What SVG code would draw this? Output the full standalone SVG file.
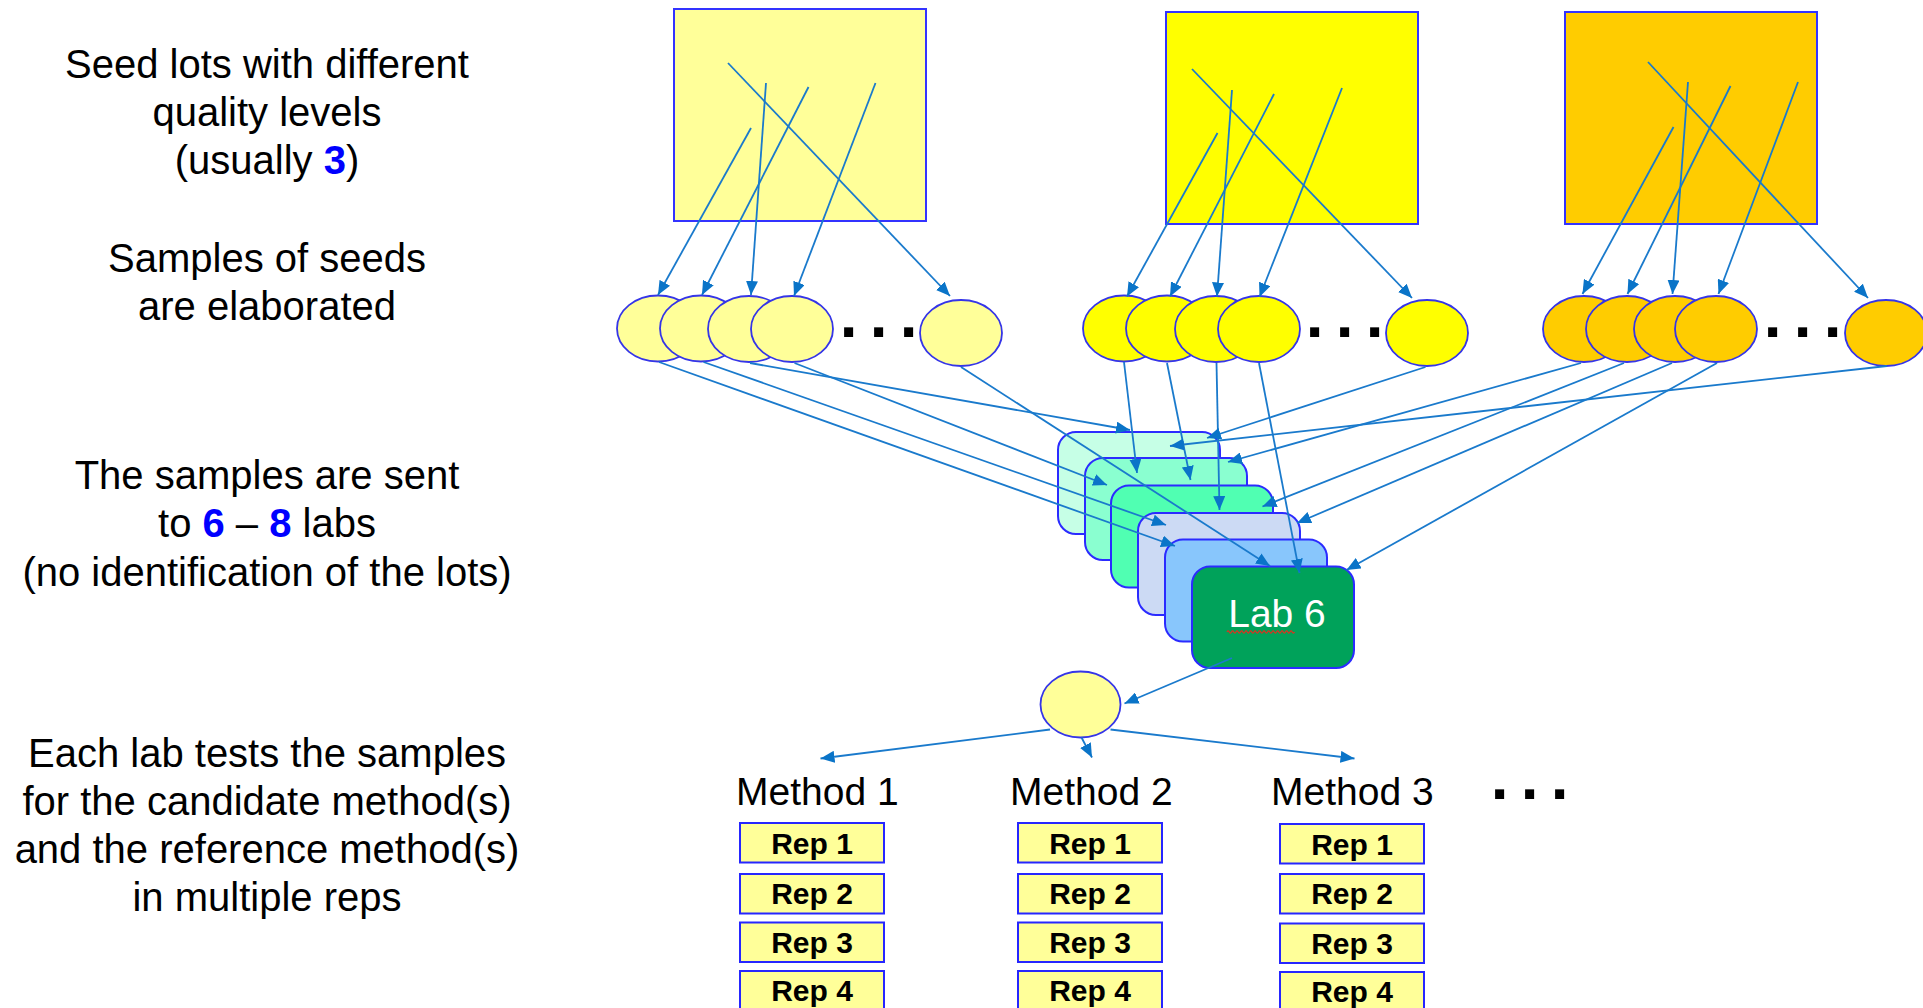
<svg xmlns="http://www.w3.org/2000/svg" width="1923" height="1008" viewBox="0 0 1923 1008">
<defs>
<marker id="ah" markerUnits="userSpaceOnUse" markerWidth="15" markerHeight="12" refX="14" refY="6" orient="auto"><path d="M0,0 L14,6 L0,12 z" fill="#0A74C8"/></marker>
</defs>
<style>
.lot{stroke:#3333FF;stroke-width:2}
.seed{stroke:#3535E8;stroke-width:1.8}
.y1{fill:#FFFF99}.y2{fill:#FFFF00}.y3{fill:#FFCC00}
.lab{stroke:#2B2BFF;stroke-width:2}
.rep{fill:#FFFF99;stroke:#2626FF;stroke-width:2}
.c{stroke:#1A7ACC;stroke-width:1.8;fill:none;marker-end:url(#ah)}
.t{font-family:"Liberation Sans",Arial,sans-serif;font-size:40px;fill:#000;text-anchor:middle}
.b{font-weight:bold;fill:#0000FF}
.m{font-family:"Liberation Sans",Arial,sans-serif;font-size:39px;fill:#000}
.r{font-family:"Liberation Sans",Arial,sans-serif;font-size:30px;font-weight:bold;fill:#000;text-anchor:middle}
.d{font-family:"Liberation Sans",Arial,sans-serif;font-size:64px;font-weight:bold;fill:#000}
</style>
<rect width="1923" height="1008" fill="#FFFFFF"/>

<g id="labels">
<text class="t" x="267" y="78">Seed lots with different</text>
<text class="t" x="267" y="126">quality levels</text>
<text class="t" x="267" y="174">(usually <tspan class="b">3</tspan>)</text>
<text class="t" x="267" y="272">Samples of seeds</text>
<text class="t" x="267" y="320">are elaborated</text>
<text class="t" x="267" y="489">The samples are sent</text>
<text class="t" x="267" y="537">to <tspan class="b">6</tspan> – <tspan class="b">8</tspan> labs</text>
<text class="t" x="267" y="586">(no identification of the lots)</text>
<text class="t" x="267" y="767">Each lab tests the samples</text>
<text class="t" x="267" y="815">for the candidate method(s)</text>
<text class="t" x="267" y="863">and the reference method(s)</text>
<text class="t" x="267" y="911">in multiple reps</text>
</g>

<g id="lot1"><rect class="lot y1" x="674" y="9" width="252" height="212"/></g>
<g id="lot2"><rect class="lot y2" x="1166" y="12" width="252" height="212"/></g>
<g id="lot3"><rect class="lot y3" x="1565" y="12" width="252" height="212"/></g>

<g id="samples1">
<ellipse class="seed y1" cx="658" cy="328.5" rx="41" ry="33"/>
<ellipse class="seed y1" cx="701" cy="328.5" rx="41" ry="33"/>
<ellipse class="seed y1" cx="749" cy="329" rx="41" ry="33"/>
<ellipse class="seed y1" cx="792" cy="329" rx="41" ry="33"/>
<ellipse class="seed y1" cx="961" cy="333" rx="41" ry="33"/>
<text class="d" x="839.7 869.7 899.7" y="337">...</text>
</g>
<g id="samples2">
<ellipse class="seed y2" cx="1124" cy="328.5" rx="41" ry="33"/>
<ellipse class="seed y2" cx="1167" cy="328.5" rx="41" ry="33"/>
<ellipse class="seed y2" cx="1216" cy="329" rx="41" ry="33"/>
<ellipse class="seed y2" cx="1259" cy="329" rx="41" ry="33"/>
<ellipse class="seed y2" cx="1427" cy="333" rx="41" ry="33"/>
<text class="d" x="1305.7 1335.7 1365.7" y="337">...</text>
</g>
<g id="samples3">
<ellipse class="seed y3" cx="1584" cy="329" rx="41" ry="33"/>
<ellipse class="seed y3" cx="1627" cy="329" rx="41" ry="33"/>
<ellipse class="seed y3" cx="1675" cy="329" rx="41" ry="33"/>
<ellipse class="seed y3" cx="1716" cy="329" rx="41" ry="33"/>
<ellipse class="seed y3" cx="1886" cy="333" rx="41" ry="33"/>
<text class="d" x="1763.7 1793.7 1823.7" y="337">...</text>
</g>

<g id="labs">
<rect class="lab" x="1058" y="432" width="162" height="102" rx="18" fill="#C6FFE6"/>
<rect class="lab" x="1085" y="458" width="162" height="102" rx="18" fill="#8AFFD0"/>
<rect class="lab" x="1111" y="485.5" width="162" height="102" rx="18" fill="#50FFB2"/>
<rect class="lab" x="1138" y="513" width="162" height="102" rx="18" fill="#CCDAF4"/>
<rect class="lab" x="1165" y="539.5" width="162" height="102" rx="18" fill="#88C6FC"/>
<g id="lab6">
<rect class="lab" x="1192" y="566.5" width="162" height="101.5" rx="18" fill="#00A25A"/>
<text x="1277" y="627" font-family="Liberation Sans, Arial, sans-serif" font-size="39" fill="#FFFFFF" text-anchor="middle">Lab 6</text>
<path d="M1227,632 q1.125,-2.2 2.25,0 t2.25,0 t2.25,0 t2.25,0 t2.25,0 t2.25,0 t2.25,0 t2.25,0 t2.25,0 t2.25,0 t2.25,0 t2.25,0 t2.25,0 t2.25,0 t2.25,0 t2.25,0 t2.25,0 t2.25,0 t2.25,0 t2.25,0 t2.25,0 t2.25,0 t2.25,0 t2.25,0 t2.25,0 t2.25,0 t2.25,0 t2.25,0 t2.25,0 t2.25,0" fill="none" stroke="#E0301E" stroke-width="1.2"/>
</g>
</g>

<g id="sample"><ellipse class="seed y1" cx="1080.5" cy="704.5" rx="40" ry="33"/></g>

<g id="methods">
<text class="m" x="736" y="805">Method 1</text>
<text class="m" x="1010" y="805">Method 2</text>
<text class="m" x="1271" y="805">Method 3</text>
<text class="d" x="1490.7 1520.7 1550.7" y="799">...</text>
</g>

<g id="reps1">
<rect class="rep" x="740" y="823" width="144" height="39.5"/><text class="r" x="812" y="854">Rep 1</text>
<rect class="rep" x="740" y="874" width="144" height="39.5"/><text class="r" x="812" y="904">Rep 2</text>
<rect class="rep" x="740" y="922.5" width="144" height="39.5"/><text class="r" x="812" y="952.5">Rep 3</text>
<rect class="rep" x="740" y="971" width="144" height="39.5"/><text class="r" x="812" y="1001">Rep 4</text>
</g>
<g id="reps2">
<rect class="rep" x="1018" y="823" width="144" height="39.5"/><text class="r" x="1090" y="854">Rep 1</text>
<rect class="rep" x="1018" y="874" width="144" height="39.5"/><text class="r" x="1090" y="904">Rep 2</text>
<rect class="rep" x="1018" y="922.5" width="144" height="39.5"/><text class="r" x="1090" y="952.5">Rep 3</text>
<rect class="rep" x="1018" y="971" width="144" height="39.5"/><text class="r" x="1090" y="1001">Rep 4</text>
</g>
<g id="reps3">
<rect class="rep" x="1280" y="824" width="144" height="39.5"/><text class="r" x="1352" y="855">Rep 1</text>
<rect class="rep" x="1280" y="874" width="144" height="39.5"/><text class="r" x="1352" y="904">Rep 2</text>
<rect class="rep" x="1280" y="923.5" width="144" height="39.5"/><text class="r" x="1352" y="953.5">Rep 3</text>
<rect class="rep" x="1280" y="972" width="144" height="39.5"/><text class="r" x="1352" y="1002">Rep 4</text>
</g>

<g id="connectors">
<line class="c" x1="751" y1="128" x2="658" y2="295"/>
<line class="c" x1="766" y1="83" x2="751" y2="295"/>
<line class="c" x1="808.5" y1="87" x2="702" y2="295"/>
<line class="c" x1="875.5" y1="83" x2="794" y2="296"/>
<line class="c" x1="728" y1="63" x2="950" y2="296"/>
<line class="c" x1="1217.5" y1="133" x2="1127" y2="296.5"/>
<line class="c" x1="1232" y1="90" x2="1217" y2="296.5"/>
<line class="c" x1="1274" y1="94" x2="1170" y2="296.5"/>
<line class="c" x1="1342" y1="88" x2="1259.5" y2="297"/>
<line class="c" x1="1192" y1="69" x2="1412" y2="298"/>
<line class="c" x1="1673.5" y1="127" x2="1582.5" y2="294"/>
<line class="c" x1="1688" y1="82" x2="1672.5" y2="294"/>
<line class="c" x1="1730.5" y1="86" x2="1627.5" y2="294"/>
<line class="c" x1="1798" y1="82" x2="1718.5" y2="294"/>
<line class="c" x1="1648" y1="62" x2="1868" y2="298"/>

<line class="c" x1="659" y1="362" x2="1175" y2="546"/>
<line class="c" x1="703.5" y1="362" x2="1166" y2="525"/>
<line class="c" x1="750" y1="363" x2="1130" y2="430"/>
<line class="c" x1="794.5" y1="363" x2="1107" y2="485"/>
<line class="c" x1="961" y1="367" x2="1270" y2="566"/>
<line class="c" x1="1124" y1="362" x2="1137" y2="473"/>
<line class="c" x1="1167" y1="363" x2="1190.5" y2="480"/>
<line class="c" x1="1216.5" y1="363" x2="1219.5" y2="510"/>
<line class="c" x1="1259" y1="363" x2="1299.5" y2="573"/>
<line class="c" x1="1425.5" y1="367" x2="1207" y2="438"/>
<line class="c" x1="1581" y1="363" x2="1228" y2="462"/>
<line class="c" x1="1624" y1="363" x2="1262.5" y2="506.5"/>
<line class="c" x1="1672" y1="363" x2="1297" y2="523"/>
<line class="c" x1="1717" y1="363" x2="1346.5" y2="570"/>
<line class="c" x1="1887" y1="366" x2="1170" y2="446"/>

<line class="c" x1="1232" y1="658" x2="1124.5" y2="703.5"/>
<line class="c" x1="1050" y1="729.5" x2="820.5" y2="758.5"/>
<line class="c" x1="1081.5" y1="737.5" x2="1092" y2="757.5"/>
<line class="c" x1="1110.5" y1="729.5" x2="1354.5" y2="758.5"/>
</g>
</svg>
